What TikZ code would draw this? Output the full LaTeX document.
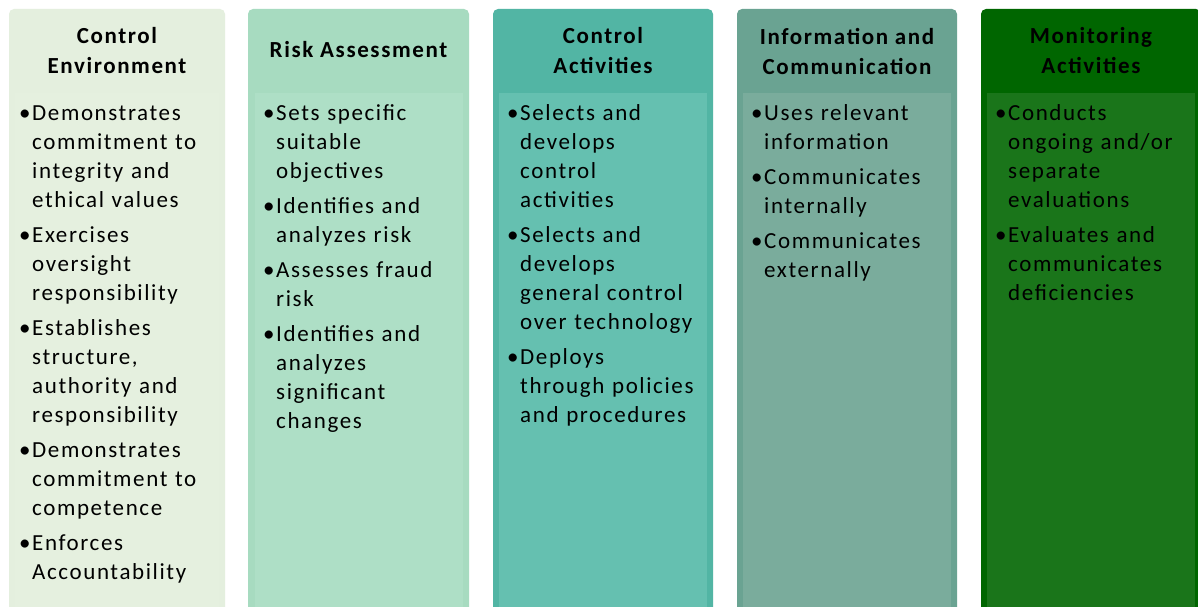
\documentclass[tikz,border=0pt]{standalone}
\usepackage{fontspec}
\setmainfont{Carlito}[LetterSpace=7]

% column colours: header band and body panel
\definecolor{ceHead}{RGB}{228,239,222}
\definecolor{ceBody}{RGB}{229,240,223}
\definecolor{raHead}{RGB}{167,219,192}
\definecolor{raBody}{RGB}{174,223,198}
\definecolor{caHead}{RGB}{82,181,164}
\definecolor{caBody}{RGB}{101,192,176}
\definecolor{icHead}{RGB}{106,163,146}
\definecolor{icBody}{RGB}{122,172,156}
\definecolor{maHead}{RGB}{0,102,0}
\definecolor{maBody}{RGB}{26,117,26}

% one bullet point: hanging indent, line breaks set by hand with \newline
\newcommand\bitem[1]{\hangindent=13pt\hangafter=1\noindent
  \makebox[13pt][l]{\rule{0pt}{21pt}\textbullet}#1\par}
\newcommand\gap{\vspace{6pt}}

\begin{document}
\begin{tikzpicture}[x=1pt,y=-1pt,
  colbox/.style={rounded corners=5pt},
  headtxt/.style={font=\bfseries\fontsize{23}{30}\selectfont, align=center,
    inner sep=0pt, text=black},
  bodytxt/.style={anchor=north west, inner sep=0pt, text width=208pt,
    align=left, font=\fontsize{23}{29}\selectfont, text=black}]

\useasboundingbox (0,0) rectangle (1198,607);
\clip (0,0) rectangle (1198,607);
\fill[white] (0,0) rectangle (1198,607);

% ---- Control Environment
\fill[ceHead,colbox] (9,9) rectangle (225,640);
\fill[ceBody] (15,93) rectangle (219,640);
\node[headtxt] (ceT) at (117,51) {Control\\Environment};
\node[bodytxt] (ceL) at (19,99) {%
  \bitem{Demonstrates\newline commitment to\newline integrity and\newline ethical values}\gap
  \bitem{Exercises\newline oversight\newline responsibility}\gap
  \bitem{Establishes\newline structure,\newline authority and\newline responsibility}\gap
  \bitem{Demonstrates\newline commitment to\newline competence}\gap
  \bitem{Enforces\newline Accountability}};

% ---- Risk Assessment
\fill[raHead,colbox] (248,9) rectangle (469,640);
\fill[raBody] (255,93) rectangle (463,640);
\node[headtxt] (raT) at (358.5,50) {Risk Assessment};
\node[bodytxt] (raL) at (263,99) {%
  \bitem{Sets specific\newline suitable\newline objectives}\gap
  \bitem{Identifies and\newline analyzes risk}\gap
  \bitem{Assesses fraud\newline risk}\gap
  \bitem{Identifies and\newline analyzes\newline significant\newline changes}};

% ---- Control Activities
\fill[caHead,colbox] (493,9) rectangle (713,640);
\fill[caBody] (499,93) rectangle (707,640);
\node[headtxt] (caT) at (603,51) {Control\\Activities};
\node[bodytxt] (caL) at (507,99) {%
  \bitem{Selects and\newline develops\newline control\newline activities}\gap
  \bitem{Selects and\newline develops\newline general control\newline over technology}\gap
  \bitem{Deploys\newline through policies\newline and procedures}};

% ---- Information and Communication
\fill[icHead,colbox] (737,9) rectangle (957,640);
\fill[icBody] (743,93) rectangle (951,640);
\node[headtxt] (icT) at (847,51) {Information and\\Communication};
\node[bodytxt] (icL) at (751,99) {%
  \bitem{Uses relevant\newline information}\gap
  \bitem{Communicates\newline internally}\gap
  \bitem{Communicates\newline externally}};

% ---- Monitoring Activities
\fill[maHead,colbox] (981,9) rectangle (1201,640);
\fill[maBody] (987,93) rectangle (1195,640);
\node[headtxt] (maT) at (1091,51) {Monitoring\\Activities};
\node[bodytxt] (maL) at (995,99) {%
  \bitem{Conducts\newline ongoing and/or\newline separate\newline evaluations}\gap
  \bitem{Evaluates and\newline communicates\newline deficiencies}};
\end{tikzpicture}
\end{document}
